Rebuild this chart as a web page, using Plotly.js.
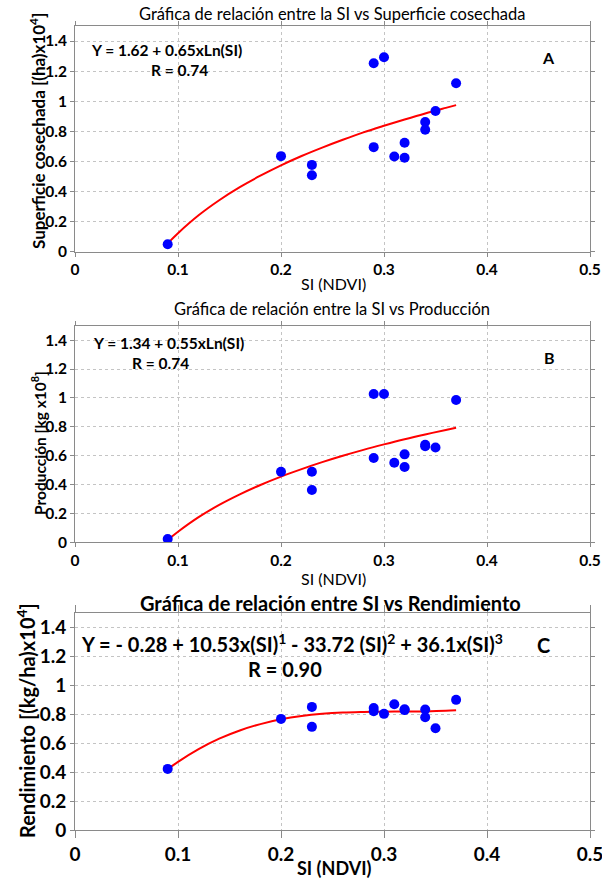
<!DOCTYPE html>
<html>
<head>
<meta charset="utf-8">
<script src="https://cdn.plot.ly/plotly-3.0.1.min.js"></script>
<style>html,body{margin:0;padding:0;background:#fff}</style>
</head>
<body>
<div id="chart" style="width:602px;height:879px"></div>
<script>
// Observed data (SI = NDVI)
const si = [0.09, 0.2, 0.23, 0.23, 0.29, 0.29, 0.3, 0.31, 0.32, 0.32, 0.34, 0.34, 0.35, 0.37];
const superficie = [0.05, 0.635, 0.577, 0.508, 1.252, 0.695, 1.292, 0.633, 0.724, 0.624, 0.862, 0.811, 0.935, 1.12];
const produccion = [0.023, 0.489, 0.489, 0.362, 1.027, 0.584, 1.027, 0.551, 0.609, 0.521, 0.675, 0.665, 0.657, 0.985];
const rendimiento = [0.423, 0.769, 0.852, 0.714, 0.845, 0.822, 0.804, 0.871, 0.836, 0.83, 0.834, 0.781, 0.704, 0.901];

// Fitted curves
const fitX = [0.09, 0.1, 0.12, 0.14, 0.16, 0.18, 0.2, 0.22, 0.24, 0.26, 0.28, 0.3, 0.32, 0.34, 0.36, 0.37];
const fitSuperficie = [0.055, 0.123, 0.242, 0.342, 0.429, 0.505, 0.574, 0.636, 0.692, 0.744, 0.793, 0.837, 0.879, 0.919, 0.956, 0.974];
const fitProduccion = [0.016, 0.073, 0.174, 0.259, 0.332, 0.397, 0.455, 0.507, 0.555, 0.599, 0.640, 0.678, 0.714, 0.747, 0.778, 0.793];
const fitRendimiento = [0.421, 0.472, 0.560, 0.632, 0.689, 0.733, 0.766, 0.789, 0.804, 0.813, 0.817, 0.819, 0.820, 0.821, 0.825, 0.829];

const xTicks = [0, 0.1, 0.2, 0.3, 0.4, 0.5];
const xTickText = ['0', '0.1', '0.2', '0.3', '0.4', '0.5'];
const yTicks = [0, 0.2, 0.4, 0.6, 0.8, 1, 1.2, 1.4];
const yTickText = ['0', '0.2', '0.4', '0.6', '0.8', '1', '1.2', '1.4'];

const FONT = 'Lato, Open Sans, DejaVu Sans, sans-serif';

function scatter(y, xa, ya) {
  return {x: si, y: y, xaxis: xa, yaxis: ya, type: 'scatter', mode: 'markers',
          marker: {color: '#0000ff', size: 10}, showlegend: false, hoverinfo: 'skip'};
}
function fit(y, xa, ya) {
  return {x: fitX, y: y, xaxis: xa, yaxis: ya, type: 'scatter', mode: 'lines',
          line: {color: '#ff0000', width: 2, shape: 'spline', smoothing: 1}, showlegend: false, hoverinfo: 'skip'};
}

const data = [
  fit(fitSuperficie, 'x', 'y'), scatter(superficie, 'x', 'y'),
  fit(fitProduccion, 'x2', 'y2'), scatter(produccion, 'x2', 'y2'),
  fit(fitRendimiento, 'x3', 'y3'), scatter(rendimiento, 'x3', 'y3')
];

function common(big) {
  return {showgrid: true, gridcolor: '#c4c4c4', griddash: 'dot', gridwidth: 1,
    showline: true, linecolor: '#8a8a8a', linewidth: 1, mirror: 'ticks',
    ticks: 'outside', ticklen: 4, tickcolor: '#8a8a8a', zeroline: false,
    ticklabeloverflow: 'allow',
    tickfont: {family: FONT, size: big ? 19 : 15.5, color: '#000', weight: 'bold'}};
}
function xax(anchor, big) {
  const a = Object.assign(common(big), {anchor: anchor, range: [0, 0.5], tickvals: xTicks, ticktext: xTickText});
  if (big) a.ticklen = 7;
  return a;
}
function yax(anchor, domain, big) {
  return Object.assign(common(big), {anchor: anchor, domain: domain, range: [0, 1.5], tickvals: yTicks, ticktext: yTickText});
}

const L = 75, R = 590, TOP = 26, BOT = 830;
const xp = px => (px - L) / (R - L);
const yp = py => (BOT - py) / (BOT - TOP);

function ann(text, x, y, size, bold, opts) {
  return Object.assign({text: text, xref: 'paper', yref: 'paper', x: xp(x), y: yp(y),
    xanchor: 'center', yanchor: 'middle', showarrow: false,
    font: {family: FONT, size: size, color: '#000', weight: bold ? 'bold' : 'normal'}}, opts || {});
}

const annotations = [
  ann('Gráfica de relación entre la SI vs Superficie cosechada', 332, 14, 16.5, false),
  ann('Gráfica de relación entre la SI vs Producción', 332, 309, 16.5, false),
  ann('Gráfica de relación entre SI vs Rendimiento', 330, 603, 20, true),
  ann('SI (NDVI)', 333, 283, 16, false),
  ann('SI (NDVI)', 333, 578, 16, false),
  ann('SI (NDVI)', 334, 868, 18, true),
  ann('Superficie cosechada [(ha)x10<sup>4</sup>]', 37, 131, 17, true, {textangle: -90}),
  ann('Producción [kg x10<sup>8</sup>]', 38, 443, 15.5, true, {textangle: -90}),
  ann('Rendimiento [(kg/ha)x10<sup>4</sup>]', 26, 721, 20, true, {textangle: -90}),
  ann('Y = 1.62 + 0.65xLn(SI)', 166, 50, 15.5, true),
  ann('R = 0.74', 179, 70, 15.5, true),
  ann('A', 548, 57, 16, true),
  ann('Y = 1.34 + 0.55xLn(SI)', 168, 343, 15.5, true),
  ann('R = 0.74', 160, 363, 15.5, true),
  ann('B', 549, 357, 16, true),
  ann('Y = - 0.28 + 10.53x(SI)<sup>1</sup> - 33.72 (SI)<sup>2</sup> + 36.1x(SI)<sup>3</sup>', 292, 643, 20, true),
  ann('R = 0.90', 285, 669, 20, true),
  ann('C', 543, 645, 20, true)
];

const layout = {
  width: 602, height: 879,
  margin: {l: L, r: 602 - R, t: TOP, b: 879 - BOT, pad: 0},
  paper_bgcolor: '#ffffff', plot_bgcolor: '#ffffff',
  font: {family: FONT, color: '#000'},
  showlegend: false,
  xaxis: xax('y', false), yaxis: yax('x', [yp(251.7), 1], false),
  xaxis2: xax('y2', false), yaxis2: yax('x2', [yp(542.3), yp(325.7)], false),
  xaxis3: xax('y3', true), yaxis3: yax('x3', [0, yp(613.3)], true),
  annotations: annotations
};

Plotly.newPlot('chart', data, layout, {displayModeBar: false, staticPlot: true});
</script>
</body>
</html>
